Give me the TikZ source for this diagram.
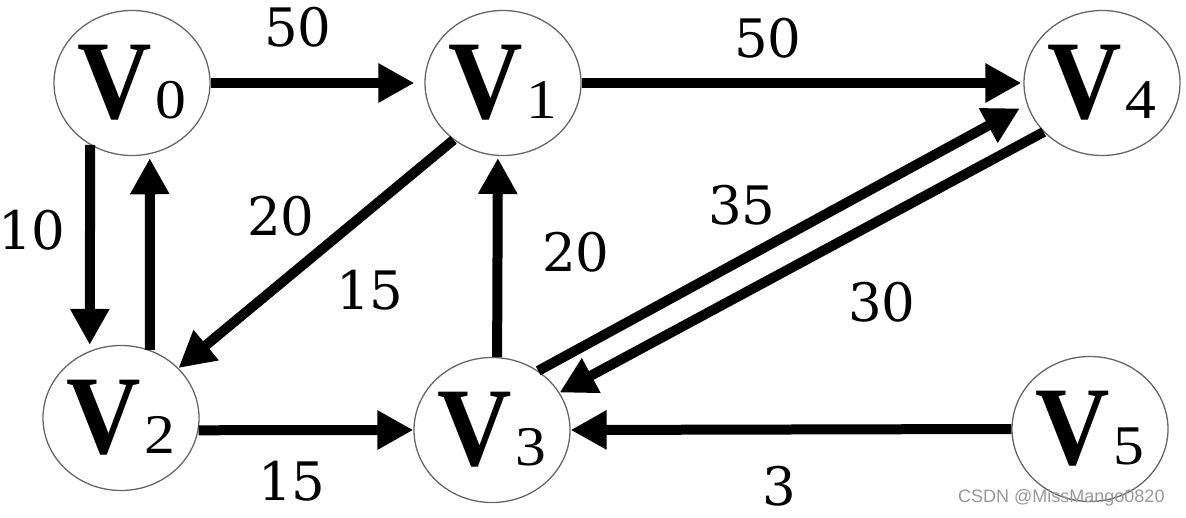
\documentclass[tikz,border=0pt]{standalone}
\usepackage{fontspec}
\usepackage{graphicx}
\setmainfont{Liberation Serif}
\newfontfamily\labelfont{DejaVu Serif}
\newfontfamily\wmfont{Liberation Sans}
\usetikzlibrary{arrows.meta,shapes.geometric}
\tikzset{
  vertex/.style={ellipse, draw=black!60, line width=1.3pt, minimum width=156pt,
    minimum height=145pt, inner sep=0pt, fill=white},
  edge/.style={line width=10pt, -{Triangle[length=36pt,width=37pt]}},
  wlabel/.style={font=\labelfont\fontsize{53}{53}\selectfont, inner sep=0pt},
}
\newcommand{\vname}[1]{\fontsize{112}{112}\selectfont\bfseries\scalebox{0.92}[1]{V}\kern3pt{\mdseries\fontsize{56}{56}\selectfont\scalebox{1.1}[1]{#1}}}
\begin{document}
\begin{tikzpicture}[x=1pt,y=-1pt]
\useasboundingbox (0,0) rectangle (1186,518);
% vertices
\node[vertex] (V0) at (132,83) {\vname{0}};
\node[vertex] (V1) at (503,83) {\vname{1}};
\node[vertex] (V4) at (1102,83) {\vname{4}};
\node[vertex] (V2) at (121,418) {\vname{2}};
\node[vertex] (V3) at (492,430) {\vname{3}};
\node[vertex] (V5) at (1090,429) {\vname{5}};
% edges
\draw[edge, shorten >=10pt] (V0.east) -- (V1.west);
\draw[edge, shorten >=2pt] (V1.east) -- (V4.west);
\draw[edge, shorten >=6pt] (V0.-124.5) -- (V2.115);
\draw[edge, shorten >=4pt] (V2.67.5) -- (V0.-76.5);
\draw[edge] (V1.-131.5) -- (V2.41.8);
\draw[edge, shorten >=2pt] (V3.86) -- (V1.-94.7);
\draw[edge, shorten >=8pt] (V3.52.5) -- (V4.196.3);
\draw[edge] (V4.-140.9) -- (V3.29.2);
\draw[edge] (V2.-9) -- (V3.west);
\draw[edge] (V5.west) -- (V3.east);
% weights
\node[wlabel] (w01) at (298,27) {50};
\node[wlabel] (w14) at (768,38) {50};
\node[wlabel] (w02) at (32,230) {10};
\node[wlabel] (w12) at (281,216) {20};
\node[wlabel] (wx) at (370,290) {15};
\node[wlabel] (w31) at (576,252) {20};
\node[wlabel] (w34) at (742,205) {35};
\node[wlabel] (w43) at (882,302) {30};
\node[wlabel] (w23) at (292,481) {15};
\node[wlabel] (w53) at (779,486) {3};
% watermark
\node[font=\wmfont\fontsize{18}{18}\selectfont, text=black!40, anchor=west, inner sep=0pt] (wm) at (958,498) {CSDN @MissMango0820};
\end{tikzpicture}
\end{document}
